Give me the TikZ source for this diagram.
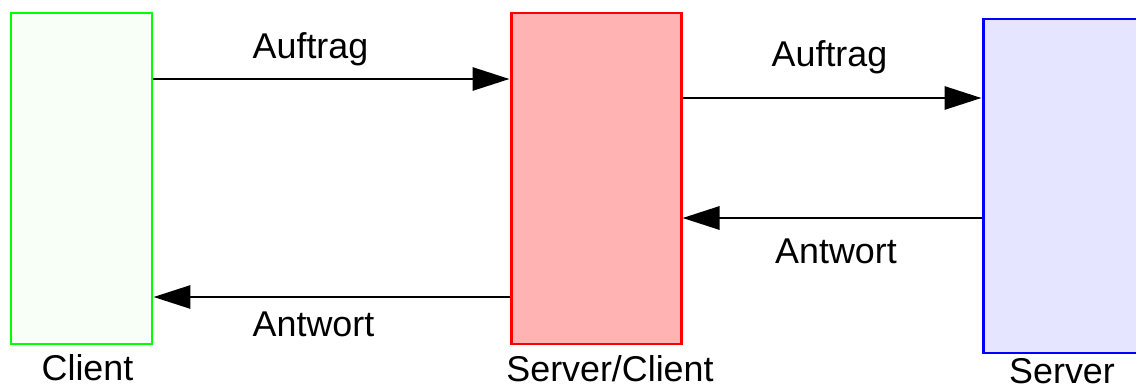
\documentclass[tikz,border=0pt]{standalone}
\usepackage{fontspec}
\setmainfont{Liberation Sans}
\usepackage{tikz}
\usetikzlibrary{arrows.meta}
\usetikzlibrary{calc}
\tikzset{t/.style={font=\fontsize{20.4}{24}\selectfont, anchor=base, inner sep=0pt}}
\tikzset{
box/.style={line width=1.7pt, minimum height=6.62cm, inner sep=0pt}, msg/.style={line width=1.7pt, -{Triangle[length=0.74cm, width=0.46cm]}}
}
\definecolor{clientfill}{RGB}{247,255,247}
\definecolor{midfill}{RGB}{255,179,179}
\definecolor{serverfill}{RGB}{229,229,255}

\begin{document}
\begin{tikzpicture}
    \useasboundingbox (0,0) rectangle (22.72,7.7);
    \clip (0,0) rectangle (22.72,7.7);
    \node [box, draw={rgb,255:red,0;green,255;blue,0}, fill=clientfill, minimum width=2.82cm] (client) at (1.63,4.13) {};
    \node [box, draw=red, fill=midfill, minimum width=3.40cm] (mid) at (11.92,4.13) {};
    \node [box, draw=blue, fill=serverfill, minimum width=3.16cm, minimum height=6.68cm] (server) at (21.24,3.98) {};
    \coordinate (A) at (0,6.12);
    \coordinate (B) at (0,5.74);
    \coordinate (C) at (0,3.34);
    \coordinate (D) at (0,1.76);
    \draw[msg] (client.east |- A) -- (mid.west |- A);
    \draw[msg] (mid.east |- B) -- (server.west |- B);
    \draw[msg] (server.west |- C) -- (mid.east |- C);
    \draw[msg] (mid.west |- D) -- (client.east |- D);
    \node [t] (a1) at (6.21,6.54) {Auftrag};
    \node [t] (a2) at (16.59,6.36) {Auftrag};
    \node [t] (r1) at (16.72,2.44) {Antwort};
    \node [t] (r2) at (6.27,0.98) {Antwort};
    \node [t] (lc) at (1.75,0.1) {Client};
    \node [t] (lm) at (12.2,0.08) {Server/Client};
    \node [t] (ls) at (21.24,0.04) {Server};
  \end{tikzpicture}
\end{document}
